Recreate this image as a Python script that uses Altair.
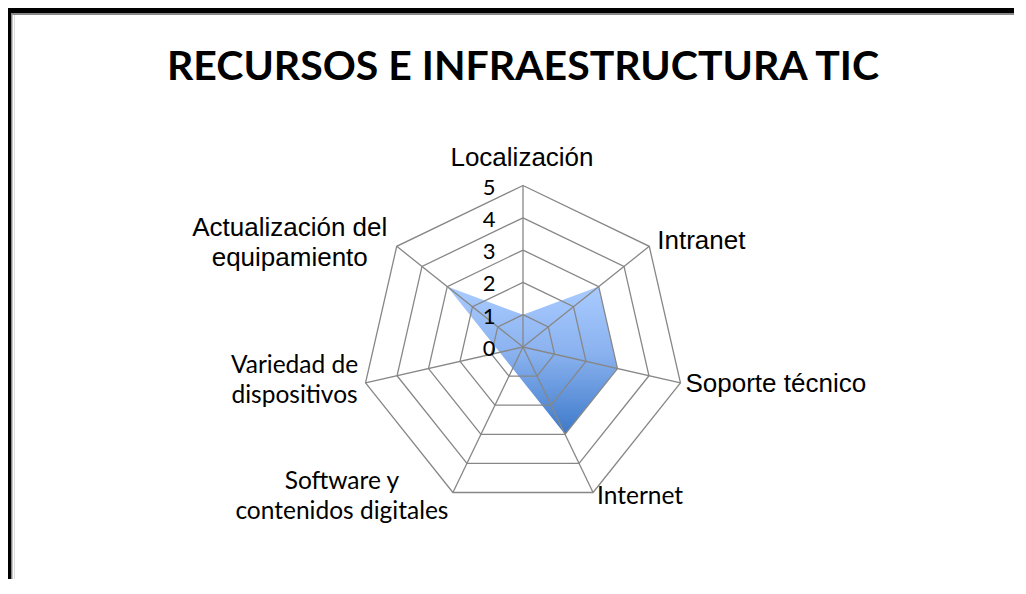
import math
import altair as alt
import pandas as pd

# ---------------- data ----------------
categories = ["Localización", "Intranet", "Soporte técnico", "Internet",
              "Software y contenidos digitales", "Variedad de dispositivos",
              "Actualización del equipamiento"]
values = [1, 3, 3, 3, None, None, 3]
tick_values = [0, 1, 2, 3, 4, 5]
tick_labels = ["0", "1", "2", "3", "4", "5"]
label_lines = [["Localización"], ["Intranet"], ["Soporte técnico"], ["Internet"],
               ["Software y", "contenidos digitales"], ["Variedad de", "dispositivos"],
               ["Actualización del", "equipamiento"]]
title_text = "RECURSOS E INFRAESTRUCTURA TIC"

# ---------------- layout / style ----------------
W, H = 1000, 565
PAD_L, PAD_T = 6, 6
CX, CY = 509, 333          # centre of radar in chart pixels
K = 32.3                   # pixels per unit
RMAX = 5
n = len(categories)
xdom = [-CX / K, (W - CX) / K]
ydom = [-(H - CY) / K, CY / K]
GRID = "#878787"
ARIAL = "Liberation Sans"
CALIBRI = "Lato"
AFS, CFS = 26, 24.5
# pixel offsets of the category labels from the outer vertex, alignment, font
label_style = [
    (-1, -28, "center", ARIAL, AFS),
    (8, -5, "left", ARIAL, AFS),
    (5, 1, "left", ARIAL, AFS),
    (4, 4, "left", CALIBRI, CFS),
    (-111, -11, "center", CALIBRI, CFS),
    (-71, -17, "center", CALIBRI, CFS),
    (-107, -18, "center", ARIAL, AFS),
]
LINE_GAP = 30


def ang(i):
    return 2 * math.pi * i / n


xs = alt.Scale(domain=xdom, range=[0, W], nice=False, zero=False)
ys = alt.Scale(domain=ydom, range=[H, 0], nice=False, zero=False)
X = lambda f: alt.X(f, type="quantitative", scale=xs, axis=None)
Y = lambda f: alt.Y(f, type="quantitative", scale=ys, axis=None)

# filled polygon (blank categories skipped, as in the original)
poly = []
o = 0
for i, (c, v) in enumerate(zip(categories, values)):
    if v is None:
        continue
    poly.append({"cat": c, "x": v * math.sin(ang(i)), "y": v * math.cos(ang(i)), "o": o})
    o += 1
poly.append(dict(poly[0], o=o))
poly_df = pd.DataFrame(poly)

grad = alt.Gradient(gradient="linear",
                    stops=[alt.GradientStop(color="#a9cbff", offset=0),
                           alt.GradientStop(color="#8ab2ef", offset=0.45),
                           alt.GradientStop(color="#3d79c9", offset=1)],
                    x1=0, x2=0, y1=0, y2=1)
fill = alt.Chart(poly_df).mark_line(fill=grad, stroke=None, strokeWidth=0, interpolate="linear").encode(
    x=X("x"), y=Y("y"), order="o:Q")

# grid heptagons
grid_rows = []
for lvl in tick_values[1:]:
    for j in range(n + 1):
        i = j % n
        grid_rows.append({"lvl": lvl, "o": j, "x": lvl * math.sin(ang(i)), "y": lvl * math.cos(ang(i))})
grid = alt.Chart(pd.DataFrame(grid_rows)).mark_line(color=GRID, strokeWidth=1.3).encode(
    x=X("x"), y=Y("y"), detail="lvl:N", order="o:Q")

# spokes
spoke_df = pd.DataFrame([{"x": 0, "y": 0, "x2": RMAX * math.sin(ang(i)), "y2": RMAX * math.cos(ang(i))}
                         for i in range(n)])
spokes = alt.Chart(spoke_df).mark_rule(color=GRID, strokeWidth=1.3).encode(
    x=X("x"), y=Y("y"), x2="x2", y2="y2")

# tick labels
tick_df = pd.DataFrame({"v": tick_values, "t": tick_labels, "x": [0] * len(tick_values)})
ticks = alt.Chart(tick_df).mark_text(font=CALIBRI, fontSize=22, color="#000", align="center",
                                      baseline="middle", dx=-34, dy=2).encode(
    x=X("x"), y=Y("v"), text="t:N")

# category labels
layers = [fill, grid, spokes, ticks]
for i, lines in enumerate(label_lines):
    dx, dy, al, font, fs = label_style[i]
    vx, vy = RMAX * math.sin(ang(i)), RMAX * math.cos(ang(i))
    for k, t in enumerate(lines):
        sub = pd.DataFrame([{"x": vx, "y": vy, "t": t}])
        layers.append(alt.Chart(sub).mark_text(font=font, fontSize=fs, color="#000", align=al,
                                               baseline="middle", dx=dx, dy=dy + k * LINE_GAP).encode(
            x=X("x"), y=Y("y"), text="t:N"))

# title
title = alt.Chart(pd.DataFrame({"t": [title_text]})).mark_text(
    font=CALIBRI, fontSize=41, fontWeight="bold", color="#000", align="center", baseline="alphabetic").encode(
    x=alt.value(523 - 8 - PAD_L), y=alt.value(80 - 8 - PAD_T), text="t:N")

# frame
frame_df = pd.DataFrame({"k": [0]})
top_b = alt.Chart(frame_df).mark_rule(color="#000", strokeWidth=5).encode(
    x=alt.value(-PAD_L - 3), x2=alt.value(W + 20), y=alt.value(10.5 - 8 - PAD_T))
top_g = alt.Chart(frame_df).mark_rule(color="#888", strokeWidth=2).encode(
    x=alt.value(11 - 8 - PAD_L), x2=alt.value(W + 20), y=alt.value(14 - 8 - PAD_T))
left_b = alt.Chart(frame_df).mark_rule(color="#000", strokeWidth=5).encode(
    x=alt.value(8.5 - 8 - PAD_L), y=alt.value(8 - 8 - PAD_T), y2=alt.value(H + 30))
left_g = alt.Chart(frame_df).mark_rule(color="#888", strokeWidth=1.5).encode(
    x=alt.value(11.75 - 8 - PAD_L), y=alt.value(13 - 8 - PAD_T), y2=alt.value(H + 30))

chart = alt.layer(*layers, title, top_b, top_g, left_b, left_g).properties(
    width=W, height=H, autosize=alt.AutoSizeParams(type="none"),
    padding={"left": PAD_L, "top": PAD_T, "right": 0, "bottom": 0}
).configure_view(stroke=None).configure(background="white")

chart.save("out.html", embed_options={"renderer": "svg", "actions": False})
